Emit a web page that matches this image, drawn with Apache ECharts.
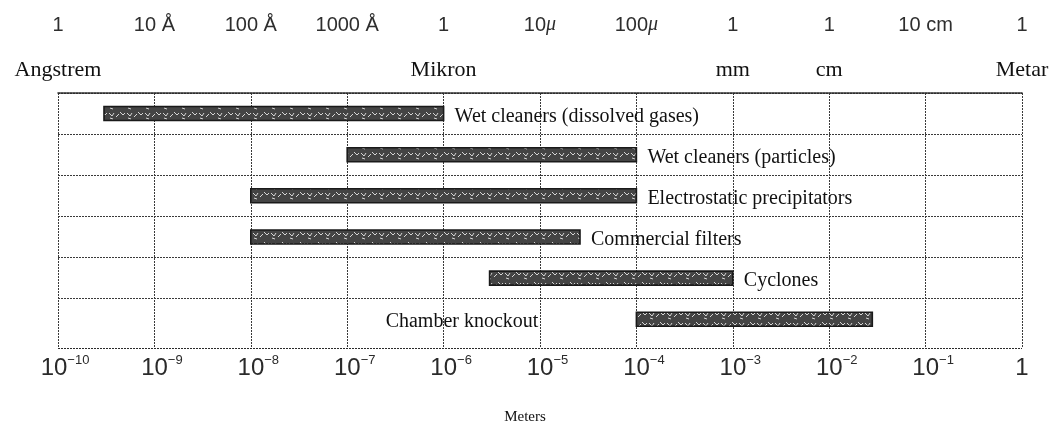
<!DOCTYPE html>
<html><head><meta charset="utf-8">
<script src="https://cdn.jsdelivr.net/npm/echarts@6/dist/echarts.min.js"></script>
<style>html,body{margin:0;padding:0;background:#fff}#c{width:1062px;height:425px}</style>
</head><body><div id="c"></div>
<script>
// ---- data ----
const categories = ['Wet cleaners (dissolved gases)', 'Wet cleaners (particles)', 'Electrostatic precipitators', 'Commercial filters', 'Cyclones', 'Chamber knockout'];
const rangeStart = [3e-10, 1e-7, 1e-8, 1e-8, 3e-6, 1e-4];
const rangeEnd   = [1e-6, 1e-4, 1e-4, 2.6e-5, 1e-3, 2.8e-2];
const labelSide  = ['right', 'right', 'right', 'right', 'right', 'left'];
const decadeExponents = [-10, -9, -8, -7, -6, -5, -4, -3, -2, -1, 0];
const topUnitLabels = ['1', '10 Å', '100 Å', '1000 Å', '1', '10{mu|μ}', '100{mu|μ}', '1', '1', '10 cm', '1'];
const topNameLabels = ['Angstrem', '', '', '', 'Mikron', '', '', 'mm', 'cm', '', 'Metar'];
const xAxisTitle = 'Meters';

// ---- styles ----
const SERIF = '"Liberation Serif", "DejaVu Serif", serif';
const SANS = '"Liberation Sans", Arial, sans-serif';
const gridLine = { color: '#3a3a3a', width: 1, type: [2, 1] };

function makeBarPattern() {
  const c = document.createElement('canvas');
  c.width = 18; c.height = 10;
  const g = c.getContext('2d');
  g.fillStyle = '#444'; g.fillRect(0, 0, 18, 10);
  g.strokeStyle = '#d6d6d6'; g.lineWidth = 1;
  g.beginPath();
  g.moveTo(1, 3); g.lineTo(4, 6); g.lineTo(6, 3);
  g.moveTo(8, 7); g.lineTo(11, 4);
  g.moveTo(12, 2); g.lineTo(15, 5); g.lineTo(17, 3);
  g.moveTo(2, 8); g.lineTo(5, 9);
  g.stroke();
  return c;
}
const barPattern = { image: makeBarPattern(), repeat: 'repeat' };

function expOf(v) { return Math.round(Math.log10(v)); }
function idxOf(v) { return decadeExponents.indexOf(expOf(v)); }

const chart = echarts.init(document.getElementById('c'), null, { renderer: 'canvas' });
const data = categories.map((c, i) => [rangeStart[i], rangeEnd[i], i + 0.5]);

const logAxisBase = { type: 'log', logBase: 10, min: 1e-10, max: 1, interval: 1, splitNumber: 10, gridIndex: 0 };

chart.setOption({
  animation: false,
  backgroundColor: '#ffffff',
  grid: { left: 58, right: 40, top: 93, bottom: 77, containLabel: false, outerBoundsMode: 'none' },
  xAxis: [
    Object.assign({}, logAxisBase, {
      position: 'bottom',
      axisLine: { show: true, lineStyle: { color: '#2a2a2a', width: 1.6, type: [2, 1] } },
      axisTick: { show: false },
      splitLine: { show: true, lineStyle: gridLine },
      minorTick: { show: false }, minorSplitLine: { show: false },
      axisLabel: {
        margin: 6,
        formatter: v => {
          const e = expOf(v);
          if (e === 0) return '{one|1}';
          const s = String(-e);
          return '{pad' + s.length + '|}{b|10}{s|−' + s + '}';
        },
        rich: {
          b: { fontFamily: SANS, fontSize: 24, lineHeight: 28, color: '#2a2a2a' },
          s: { fontFamily: SANS, fontSize: 13, lineHeight: 16, verticalAlign: 'top', color: '#2a2a2a' },
          one: { fontFamily: SANS, fontSize: 24, lineHeight: 28, color: '#2a2a2a' },
          pad1: { width: 15 },
          pad2: { width: 14 }
        }
      },
      name: xAxisTitle, nameLocation: 'middle', nameGap: 62,
      nameTextStyle: { fontFamily: SERIF, fontSize: 15, color: '#111', padding: [0, 30, 0, 0] }
    }),
    Object.assign({}, logAxisBase, {
      position: 'top',
      axisLine: { show: false }, axisTick: { show: false }, splitLine: { show: false },
      axisLabel: {
        margin: 12,
        formatter: v => topNameLabels[idxOf(v)] || '',
        fontFamily: SERIF, fontSize: 22, color: '#111'
      }
    }),
    Object.assign({}, logAxisBase, {
      position: 'top', offset: 50,
      axisLine: { show: false }, axisTick: { show: false }, splitLine: { show: false },
      axisLabel: {
        margin: 8,
        formatter: v => topUnitLabels[idxOf(v)] || '',
        fontFamily: SANS, fontSize: 20, color: '#2e2e2e',
        rich: { mu: { fontFamily: SERIF, fontStyle: 'italic', fontSize: 20, color: '#2e2e2e' } }
      }
    })
  ],
  yAxis: {
    type: 'value', inverse: true, min: 0, max: 6.2, interval: 1,
    axisLine: { show: false }, axisTick: { show: false }, axisLabel: { show: false },
    splitLine: { show: true, lineStyle: { color: ['#3a3a3a', '#3a3a3a', '#3a3a3a', '#3a3a3a', '#3a3a3a', '#3a3a3a', 'rgba(0,0,0,0)', '#2a2a2a'], width: 1, type: [2, 1] } }
  },
  series: [{
    type: 'custom',
    xAxisIndex: 0, yAxisIndex: 0,
    encode: { x: [0, 1], y: 2 },
    data: data,
    renderItem: (params, api) => {
      const i = params.dataIndex;
      const p0 = api.coord([api.value(0), api.value(2)]);
      const p1 = api.coord([api.value(1), api.value(2)]);
      const h = 14;
      const side = labelSide[i];
      return {
        type: 'group',
        children: [
          { type: 'rect', shape: { x: p0[0], y: p0[1] - h / 2, width: p1[0] - p0[0], height: h },
            style: { fill: barPattern, stroke: '#1a1a1a', lineWidth: 1.6 } },
          { type: 'text', x: side === 'right' ? p1[0] + 11 : p0[0] - 98, y: p0[1] + 3,
            style: { text: categories[i], textAlign: side === 'right' ? 'left' : 'right', textVerticalAlign: 'middle',
              fontFamily: SERIF, fontSize: 20, fill: '#111' } }
        ]
      };
    }
  }]
});
</script>
</body></html>
